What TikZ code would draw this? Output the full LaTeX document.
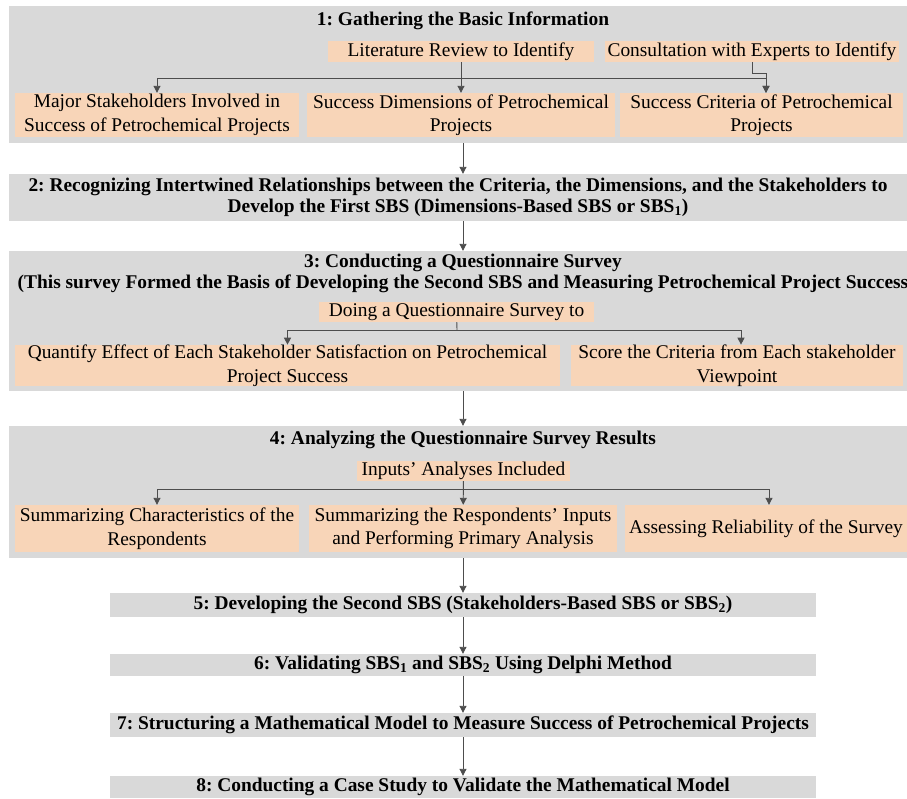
\documentclass[tikz,border=0pt]{standalone}
\usepackage{fontspec}
\setmainfont{Liberation Serif}
\usetikzlibrary{arrows.meta,positioning}
\definecolor{stagegray}{RGB}{217,217,217}
\definecolor{subpeach}{RGB}{248,213,184}
\definecolor{arrowgray}{RGB}{77,77,77}
\frenchspacing

\begin{document}
\begin{tikzpicture}[x=1pt,y=-1pt,>={Triangle[width=7pt,length=7pt]},
  txt/.style={font=\fontsize{19.4}{23.5}\selectfont},
  bold/.style={font=\fontsize{19.4}{21}\selectfont\bfseries,align=center},
  stagebox/.style={fill=stagegray,inner sep=0pt,minimum width=898pt},
  subbox/.style={txt,fill=subpeach,inner sep=0pt,align=center},
  arr/.style={->,arrowgray,line width=0.9pt}]
  \useasboundingbox (0,0) rectangle (907,798);
  % stage 1
  \node[stagebox,minimum height=137pt] (s1) at (457.5,74.5) {};
  \node[bold] (t1) at (463,21) {1: Gathering the Basic Information};
  \node[subbox,minimum width=266pt,minimum height=21pt] (lit) at (461,51.5) {Literature Review to Identify};
  \node[subbox,minimum width=294pt,minimum height=21pt] (cons) at (752,51.5) {Consultation with Experts to Identify};
  \node[subbox,minimum width=284pt,minimum height=44pt] (stk) at (157,115) {Major Stakeholders Involved in\\Success of Petrochemical Projects};
  \node[subbox,minimum width=308pt,minimum height=44pt] (dim) at (461,115) {Success Dimensions of Petrochemical\\Projects};
  \node[subbox,minimum width=283pt,minimum height=44pt] (crit) at (761.5,115) {Success Criteria of Petrochemical\\Projects};
  \coordinate (j1) at (461,78);
  \draw[arr] (lit) -- (dim);
  \draw[arr] (j1) -| (stk);
  \draw[arr] (j1) -| ([xshift=4.5pt]crit.north);
  \draw[arr] (cons.south) -- ++(0,11) -| ([xshift=4.5pt]crit.north);
  % stage 2
  \node[stagebox,minimum height=47pt,bold] (s2) at (458,197.5) {2: Recognizing Intertwined Relationships between the Criteria, the Dimensions, and the Stakeholders to\\Develop the First SBS (Dimensions-Based SBS or SBS\textsubscript{1})};
  \draw[arr] (s1.south -| 463,0) -- (s2.north -| 463,0);
  % stage 3
  \node[stagebox,minimum height=140pt] (s3) at (458,321) {};
  \node[bold] (t3) at (463,273) {3: Conducting a Questionnaire Survey\\(This survey Formed the Basis of Developing the Second SBS and Measuring Petrochemical Project Success};
  \node[subbox,minimum width=275pt,minimum height=20pt] (dq) at (456.5,312) {Doing a Questionnaire Survey to};
  \node[subbox,minimum width=545pt,minimum height=41pt] (quant) at (287.5,365.5) {Quantify Effect of Each Stakeholder Satisfaction on Petrochemical\\Project Success};
  \node[subbox,minimum width=332pt,minimum height=41pt] (score) at (737,365.5) {Score the Criteria from Each stakeholder\\Viewpoint};
  \coordinate (j3) at (457,330);
  \draw[arrowgray,line width=0.9pt] (dq) -- (j3);
  \draw[arr] (j3) -| (quant);
  \draw[arr] (j3) -| ([xshift=4pt]score.north);
  \draw[arr] (s2.south -| 463,0) -- (s3.north -| 463,0);
  % stage 4
  \node[stagebox,minimum height=132pt] (s4) at (458,492) {};
  \node[bold] (t4) at (463,440) {4: Analyzing the Questionnaire Survey Results};
  \node[subbox,minimum width=213pt,minimum height=20pt] (inp) at (463.5,471) {Inputs’ Analyses Included};
  \node[subbox,minimum width=284pt,minimum height=47pt] (char) at (157,528.5) {Summarizing Characteristics of the\\Respondents};
  \node[subbox,minimum width=308pt,minimum height=47pt] (resp) at (463,528.5) {Summarizing the Respondents’ Inputs\\and Performing Primary Analysis};
  \node[subbox,minimum width=282pt,minimum height=47pt] (rel) at (766,528.5) {Assessing Reliability of the Survey};
  \coordinate (j4) at (463,489);
  \draw[arr] (inp) -- (resp);
  \draw[arr] (j4) -| (char);
  \draw[arr] (j4) -| ([xshift=3pt]rel.north);
  \draw[arr] (s3.south -| 463,0) -- (s4.north -| 463,0);
  % stages 5 to 8
  \node[stagebox,bold,minimum width=706pt,minimum height=24pt] (s5) at (463,605) {5: Developing the Second SBS (Stakeholders-Based SBS or SBS\textsubscript{2})};
  \node[stagebox,bold,minimum width=706pt,minimum height=22pt] (s6) at (463,665) {6: Validating SBS\textsubscript{1} and SBS\textsubscript{2} Using Delphi Method};
  \node[stagebox,bold,minimum width=706pt,minimum height=24pt] (s7) at (463,725) {7: Structuring a Mathematical Model to Measure Success of Petrochemical Projects};
  \node[stagebox,bold,minimum width=706pt,minimum height=22pt] (s8) at (463,787) {8: Conducting a Case Study to Validate the Mathematical Model};
  \draw[arr] (s4.south -| s5.north) -- (s5.north);
  \draw[arr] (s5) -- (s6);
  \draw[arr] (s6) -- (s7);
  \draw[arr] (s7) -- (s8);
\end{tikzpicture}
\end{document}
